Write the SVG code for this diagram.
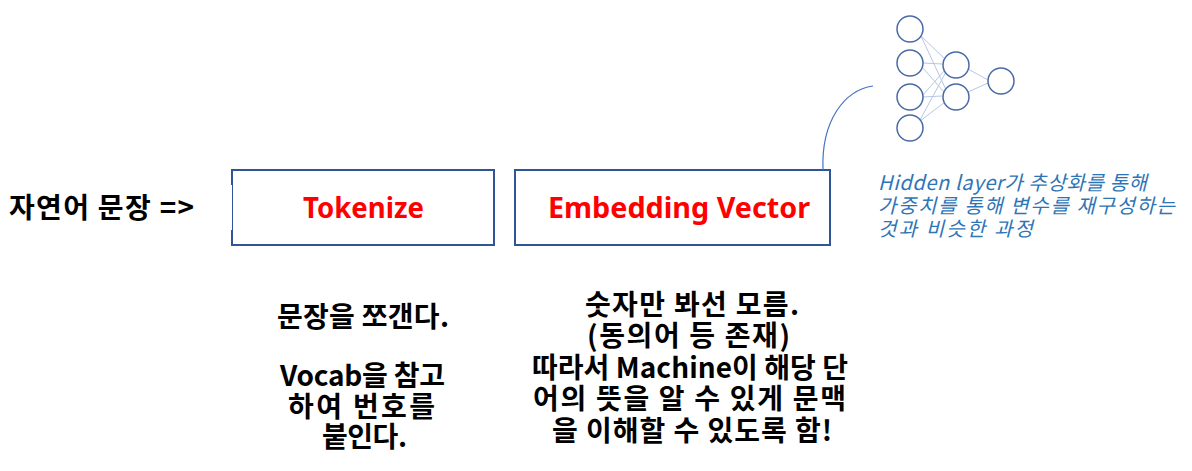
<svg xmlns="http://www.w3.org/2000/svg" width="1192" height="471" viewBox="0 0 1192 471">
<style>
.box{fill:#fff;stroke:#2f5597;stroke-width:2}
.red{font-family:"Noto Sans","Noto Sans CJK KR",sans-serif;font-weight:bold;font-size:28px;fill:#ff0000}
.kr{font-family:"Noto Sans CJK KR","Noto Sans",sans-serif;font-weight:bold;font-size:28px;fill:#000}
.note{font-family:"Noto Sans CJK KR","Noto Sans",sans-serif;font-style:italic;font-size:20px;fill:#2e75b6}
.neuron{fill:#fff;stroke:#4a6aa8;stroke-width:1.5}
.syn{stroke:#b4c7e7;stroke-width:1;fill:none}
</style>
<g id="node-tokenize">
<rect class="box" x="232" y="170" width="262" height="75"/>
<text class="red" x="303" y="218" textLength="121" lengthAdjust="spacingAndGlyphs">Tokenize</text>
</g>
<g id="node-embedding">
<rect class="box" x="515" y="170" width="315" height="75"/>
<text class="red" x="548" y="218" textLength="262" lengthAdjust="spacingAndGlyphs">Embedding Vector</text>
</g>
<g id="label-input">
<rect x="230" y="185" width="2" height="45" fill="#fff"/>
<text class="kr" x="9" y="218" textLength="185" lengthAdjust="spacing">자연어 문장 =&gt;</text>
</g>
<g id="text-tokenize">
<text class="kr" x="277" y="327" textLength="172" lengthAdjust="spacing">문장을 쪼갠다.</text>
<text class="kr" x="280" y="386" textLength="165" lengthAdjust="spacing">Vocab을 참고</text>
<text class="kr" x="288" y="417" textLength="147" lengthAdjust="spacing">하여 번호를</text>
<text class="kr" x="322" y="447" textLength="85" lengthAdjust="spacing">붙인다.</text>
</g>
<g id="text-embedding">
<text class="kr" x="585" y="315" textLength="214" lengthAdjust="spacing">숫자만 봐선 모름.</text>
<text class="kr" x="587" y="346" textLength="203" lengthAdjust="spacing">(동의어 등 존재)</text>
<text class="kr" x="532" y="378" textLength="316" lengthAdjust="spacing">따라서 Machine이 해당 단</text>
<text class="kr" x="533" y="409" textLength="313" lengthAdjust="spacing">어의 뜻을 알 수 있게 문맥</text>
<text class="kr" x="552" y="441" textLength="280" lengthAdjust="spacing">을 이해할 수 있도록 함!</text>
</g>
<g id="note">
<text class="note" x="878" y="190" textLength="269" lengthAdjust="spacing">Hidden layer가 추상화를 통해</text>
<text class="note" x="878" y="213" textLength="297" lengthAdjust="spacing">가중치를 통해 변수를 재구성하는</text>
<text class="note" x="878" y="236" textLength="155" lengthAdjust="spacing">것과 비슷한 과정</text>
</g>
<g id="connectors">
<path d="M873 86 C845 90 821 120 823 170" fill="none" stroke="#4472c4" stroke-width="1.2"/>
<g class="syn">
<line x1="921" y1="36" x2="946" y2="60"/>
<line x1="921" y1="36" x2="947" y2="92"/>
<line x1="923" y1="63" x2="942" y2="64"/>
<line x1="922" y1="67" x2="944" y2="92"/>
<line x1="922" y1="96" x2="944" y2="71"/>
<line x1="923" y1="97" x2="942" y2="96"/>
<line x1="920" y1="120" x2="946" y2="72"/>
<line x1="920" y1="121" x2="945" y2="102"/>
<line x1="968" y1="69" x2="988" y2="80"/>
<line x1="968" y1="92" x2="988" y2="83"/>
</g>
</g>
<g id="network">
<circle class="neuron" cx="910" cy="29" r="13"/>
<circle class="neuron" cx="910" cy="63" r="13"/>
<circle class="neuron" cx="910" cy="97" r="13"/>
<circle class="neuron" cx="910" cy="128" r="13"/>
<circle class="neuron" cx="956" cy="65" r="13"/>
<circle class="neuron" cx="956" cy="97" r="13"/>
<circle class="neuron" cx="1001" cy="81" r="13"/>
</g>
</svg>
